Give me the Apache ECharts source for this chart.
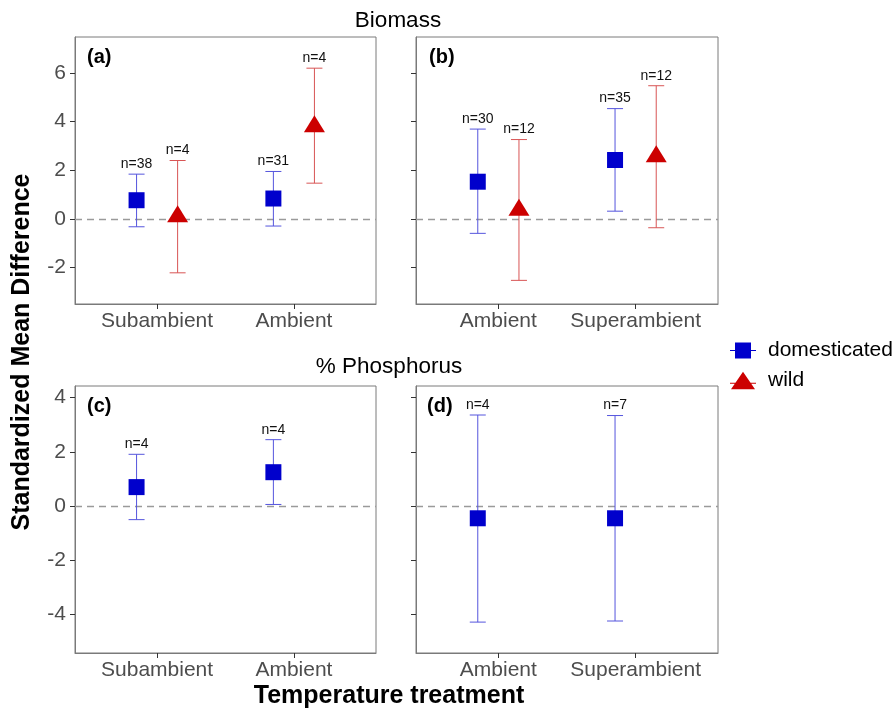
<!DOCTYPE html>
<html>
<head>
<meta charset="utf-8">
<script src="https://cdn.jsdelivr.net/npm/echarts@6/dist/echarts.min.js"></script>
<style>
html,body{margin:0;padding:0;background:#fff;}
#chart{width:893px;height:708px;}
</style>
</head>
<body>
<div id="chart"></div>
<script>
// ---- data ----
const catsA = ['Subambient', 'Ambient'];
const catsB = ['Ambient', 'Superambient'];
const catsC = ['Subambient', 'Ambient'];
const catsD = ['Ambient', 'Superambient'];

const aDomMean = [0.77, 0.84], aDomLo = [-0.32, -0.29], aDomHi = [1.84, 1.95], aDomN = [38, 31];
const aWildMean = [0.09, 3.79], aWildLo = [-2.21, 1.47], aWildHi = [2.40, 6.19], aWildN = [4, 4];
const bDomMean = [1.53, 2.42], bDomLo = [-0.59, 0.32], bDomHi = [3.69, 4.53], bDomN = [30, 35];
const bWildMean = [0.36, 2.55], bWildLo = [-2.52, -0.36], bWildHi = [3.26, 5.47], bWildN = [12, 12];
const cDomMean = [0.70, 1.25], cDomLo = [-0.50, 0.06], cDomHi = [1.91, 2.45], cDomN = [4, 4];
const dDomMean = [-0.45, -0.45], dDomLo = [-4.28, -4.24], dDomHi = [3.36, 3.34], dDomN = [4, 7];

const yTicksTop = [-2, 0, 2, 4, 6];
const yTicksBottom = [-4, -2, 0, 2, 4];

// ---- styling ----
const BLUE = '#0000cc', RED = '#cc0000';
const BLUE_LINE = '#5555dd', RED_LINE = '#d85555';
const DODGE = 0.15;
const FONT = '"Liberation Sans", Arial, sans-serif';

const chart = echarts.init(document.getElementById('chart'), null, {renderer: 'canvas'});

const grids = [
  {left: 75, top: 37, width: 301, height: 267},
  {left: 416, top: 37, width: 302, height: 267},
  {left: 75, top: 386, width: 301, height: 267},
  {left: 416, top: 386, width: 302, height: 267}
].map(g => Object.assign({show: true, borderColor: '#7a7a7a', borderWidth: 1, backgroundColor: 'transparent'}, g));

function xAxisFor(gi, cats) {
  return {
    type: 'value', gridIndex: gi, min: 0.4, max: 2.6,
    splitLine: {show: false},
    axisLine: {show: true, onZero: false, lineStyle: {color: '#7a7a7a'}},
    axisTick: {show: true, customValues: [1, 2], length: 5, lineStyle: {color: '#333'}},
    axisLabel: {show: true, customValues: [1, 2], margin: 7, fontSize: 21, fontFamily: FONT, color: '#4d4d4d',
      formatter: v => cats[Math.round(v) - 1] || ''}
  };
}
function yAxisFor(gi, min, max, ticks, showLabels) {
  return {
    type: 'value', gridIndex: gi, min: min, max: max,
    splitLine: {show: false},
    axisLine: {show: true, onZero: false, lineStyle: {color: '#7a7a7a'}},
    axisTick: {show: true, customValues: ticks, length: 5, lineStyle: {color: '#333'}},
    axisLabel: {show: showLabels, customValues: ticks, margin: 9, fontSize: 21, fontFamily: FONT, color: '#4d4d4d'}
  };
}

const series = [];

function addGroup(gi, groupIdx, name, means, los, his, ns, color, lineColor, symbol, symbolSize, symbolOffset, withZero) {
  const xs = means.map((_, i) => i + 1 + (groupIdx === 0 ? -DODGE : DODGE));
  const errData = xs.map((x, i) => [x, los[i], his[i], ns[i]]);
  const err = {
    type: 'custom', xAxisIndex: gi, yAxisIndex: gi, z: 3, silent: true,
    data: errData,
    renderItem: function (params, api) {
      const x = api.value(0);
      const pLo = api.coord([x, api.value(1)]);
      const pHi = api.coord([x, api.value(2)]);
      const w = 8;
      const st = {stroke: lineColor, lineWidth: 1};
      return {type: 'group', children: [
        {type: 'line', shape: {x1: pLo[0], y1: pLo[1], x2: pHi[0], y2: pHi[1]}, style: st},
        {type: 'line', shape: {x1: pLo[0] - w, y1: pLo[1], x2: pLo[0] + w, y2: pLo[1]}, style: st},
        {type: 'line', shape: {x1: pHi[0] - w, y1: pHi[1], x2: pHi[0] + w, y2: pHi[1]}, style: st},
        {type: 'text', x: pHi[0], y: pHi[1] - 3, style: {text: 'n=' + api.value(3), textAlign: 'center', textVerticalAlign: 'bottom', fontSize: 14, fontFamily: FONT, fill: '#111'}}
      ]};
    }
  };
  if (withZero) {
    err.markLine = {
      silent: true, symbol: ['none', 'none'], label: {show: false}, z: 1,
      lineStyle: {color: '#9a9a9a', type: [7, 5], width: 1.3},
      data: [{yAxis: 0}]
    };
  }
  series.push(err);
  series.push({
    type: 'scatter', name: name, xAxisIndex: gi, yAxisIndex: gi, z: 5,
    symbol: symbol, symbolSize: symbolSize, symbolOffset: symbolOffset,
    itemStyle: {color: color, opacity: 1},
    data: xs.map((x, i) => [x, means[i]])
  });
}

addGroup(0, 0, 'domesticated', aDomMean, aDomLo, aDomHi, aDomN, BLUE, BLUE_LINE, 'rect', 16, [0, 0], true);
addGroup(0, 1, 'wild', aWildMean, aWildLo, aWildHi, aWildN, RED, RED_LINE, 'triangle', [21, 17], [0, -3], false);
addGroup(1, 0, 'domesticated', bDomMean, bDomLo, bDomHi, bDomN, BLUE, BLUE_LINE, 'rect', 16, [0, 0], true);
addGroup(1, 1, 'wild', bWildMean, bWildLo, bWildHi, bWildN, RED, RED_LINE, 'triangle', [21, 17], [0, -3], false);
addGroup(2, 0, 'domesticated', cDomMean, cDomLo, cDomHi, cDomN, BLUE, BLUE_LINE, 'rect', 16, [0, 0], true);
addGroup(3, 0, 'domesticated', dDomMean, dDomLo, dDomHi, dDomN, BLUE, BLUE_LINE, 'rect', 16, [0, 0], true);

const titleStyle = (text, x, y, size, weight, extra) => Object.assign({
  type: 'text', x: x, y: y,
  style: {text: text, fontSize: size, fontWeight: weight, fontFamily: FONT, fill: '#000', textAlign: 'center', textVerticalAlign: 'middle'}
}, extra || {});

const option = {
  animation: false,
  backgroundColor: '#fff',
  grid: grids,
  xAxis: [xAxisFor(0, catsA), xAxisFor(1, catsB), xAxisFor(2, catsC), xAxisFor(3, catsD)],
  yAxis: [
    yAxisFor(0, -3.49, 7.47, yTicksTop, true),
    yAxisFor(1, -3.49, 7.47, yTicksTop, false),
    yAxisFor(2, -5.42, 4.43, yTicksBottom, true),
    yAxisFor(3, -5.42, 4.43, yTicksBottom, false)
  ],
  legend: {
    orient: 'vertical', left: 725, top: 335, itemGap: 9, itemWidth: 26, itemHeight: 19,
    textStyle: {fontSize: 21, fontFamily: FONT, color: '#000', padding: [0, 0, 0, 7]},
    selectedMode: false,
    data: [
      {name: 'domesticated', icon: 'path://M0,9H26V10H0Z M5,1.5H21V17.5H5Z', itemStyle: {color: BLUE}},
      {name: 'wild', icon: 'path://M0,12H26V13H0Z M13,1L25,18.5H1Z', itemStyle: {color: RED}}
    ]
  },
  graphic: [
    titleStyle('Biomass', 398, 21, 22.5, 'normal'),
    titleStyle('% Phosphorus', 389, 367, 22.5, 'normal'),
    titleStyle('Standardized Mean Difference', 22, 352, 25, 'bold', {rotation: Math.PI / 2}),
    titleStyle('Temperature treatment', 389, 696, 25, 'bold'),
    {type: 'text', x: 87, y: 57, style: {text: '(a)', fontSize: 20, fontWeight: 'bold', fontFamily: FONT, fill: '#000', textVerticalAlign: 'middle'}},
    {type: 'text', x: 429, y: 57, style: {text: '(b)', fontSize: 20, fontWeight: 'bold', fontFamily: FONT, fill: '#000', textVerticalAlign: 'middle'}},
    {type: 'text', x: 87, y: 406, style: {text: '(c)', fontSize: 20, fontWeight: 'bold', fontFamily: FONT, fill: '#000', textVerticalAlign: 'middle'}},
    {type: 'text', x: 427, y: 406, style: {text: '(d)', fontSize: 20, fontWeight: 'bold', fontFamily: FONT, fill: '#000', textVerticalAlign: 'middle'}}
  ],
  series: series
};
chart.setOption(option);
</script>
</body>
</html>
